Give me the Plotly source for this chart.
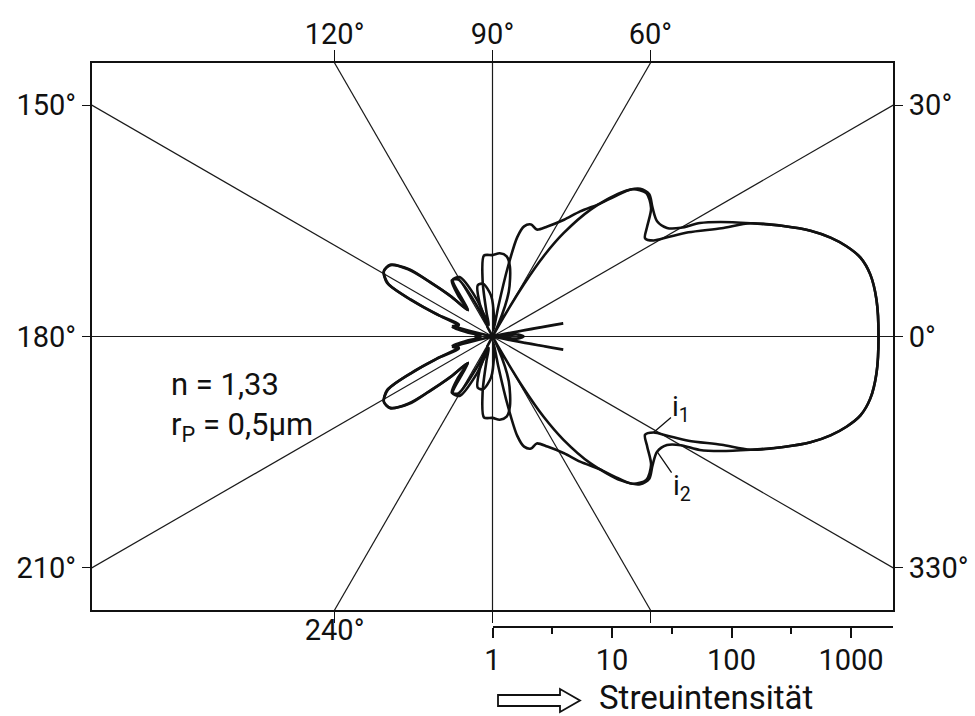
import numpy as np
import plotly.graph_objects as go

# Polar scattering diagram of a water droplet (n = 1.33, r = 0.5 µm).
# Scattering angle in degrees (0 = forward direction) and relative intensity
# for the two polarisation components i1 and i2 (upper half; the lower half
# is the mirror image).
angle_i1 = [0, 5.5, 9.3, 12.1, 14.3, 16.3, 18.4, 20.8, 23.7, 25.3,
            28, 29.5, 30.8, 32.8, 35.5, 39, 43, 46.5, 49, 51,
            55, 58.5, 63.5, 67.5, 71, 74, 76, 77.5, 79, 81,
            85, 92, 100, 106, 111, 114, 117, 121, 126, 130,
            133, 136, 139, 141, 145, 149, 153, 155.7, 158.3, 160,
            163, 167, 171, 175, 180]
intensity_i1 = [1700, 1690, 1600, 1410, 1140, 885, 638, 402, 228, 132,
                72, 49, 37, 33, 39, 51, 57.5, 50, 35.5, 27,
                19, 14, 10.7, 9.3, 9.8, 9.1, 7.2, 4.0, 1.8, 1.12,
                1.4, 2.2, 2.8, 2.8, 2.0, 1.26, 2.0, 3.6, 3.8, 2.8,
                2.0, 3.1, 4.9, 7.8, 11.1, 11.5, 9.8, 5.6, 3.2, 2.0,
                2.0, 2.2, 1.6, 1.26, 1.4]

angle_i2 = [0, 5.5, 9.3, 12.1, 14.3, 16.3, 18.4, 20.8, 23.7, 26.7,
            28.7, 30, 31.9, 35, 38.9, 42.2, 45, 48.3, 52.3, 55.5,
            57.5, 59, 60.5, 62, 64, 70, 76, 80, 85, 90,
            96, 100, 104, 108, 113, 119, 125, 129, 133, 136,
            139, 141.5, 145, 149, 153, 156, 158.5, 162, 165, 167.5,
            169.5, 171.5, 175, 180]
intensity_i2 = [1700, 1690, 1600, 1410, 1140, 885, 638, 402, 228, 136,
                95, 66, 52.5, 48, 52.5, 59, 56, 41, 22, 11.2,
                6.3, 3.2, 1.26, 0.8, 1.26, 2.5, 4.0, 4.8, 5.0, 4.8,
                4.8, 3.0, 1.6, 1.26, 2.2, 3.7, 3.8, 2.5, 2.0, 3.0,
                5.0, 8.0, 11.0, 11.5, 9.6, 5.4, 3.0, 2.0, 2.2, 1.0,
                0.25, 1.0, 0.63, 0.55]

# Reference directions and their labels on the frame
ref_angles = [0, 30, 60, 90, 120, 150]
top_labels = ["120°", "90°", "60°"]
bottom_labels = ["240°"]
left_labels = ["150°", "180°", "210°"]
right_labels = ["30°", "0°", "330°"]

# Intensity scale (logarithmic radius)
intensity_ticks = [1, 10, 100, 1000]
intensity_tick_text = ["1", "10", "100", "1000"]
intensity_minor = [10 ** 0.5, 10 ** 1.5, 10 ** 2.5]

FONT = "Roboto, 'Liberation Sans', sans-serif"
INK = "#111111"

# ---- page geometry -------------------------------------------------------
W, H = 975, 716
ML, MR, MT, MB = 92, 82, 63, 89
PW, PH = W - ML - MR, H - MT - MB          # plot area (px)
AXIS_GAP = 17                               # frame bottom to intensity axis (px)
BOX_H = PH - AXIS_GAP
R_MAX = 3.3515                              # half width of the frame in decades
R_Y = R_MAX * BOX_H / PW                    # half height of the frame in decades


def closed_curve(angles, values):
    """Mirror the 0..180° branch to a full closed polar curve in x/y."""
    a = np.asarray(angles, float)
    r = np.log10(np.asarray(values, float))
    a_full = np.concatenate([a, 360 - a[::-1][1:]])
    r_full = np.concatenate([r, r[::-1][1:]])
    t = np.radians(a_full)
    return r_full * np.cos(t), r_full * np.sin(t)


fig = go.Figure()

# radial reference lines through the centre
lx, ly = [], []
for a in ref_angles:
    t = np.radians(a)
    lx += [-10 * np.cos(t), 10 * np.cos(t), None]
    ly += [-10 * np.sin(t), 10 * np.sin(t), None]
fig.add_trace(go.Scatter(x=lx, y=ly, mode="lines",
                         line=dict(color="#1a1a1a", width=1.2),
                         hoverinfo="skip", showlegend=False))

for ang, val, name in [(angle_i1, intensity_i1, "i1"), (angle_i2, intensity_i2, "i2")]:
    x, y = closed_curve(ang, val)
    fig.add_trace(go.Scatter(x=x, y=y, mode="lines", name=name,
                             line=dict(color=INK, width=2.6,
                                       shape="spline", smoothing=0.8),
                             hoverinfo="skip", showlegend=False))

# helper traces so that the extra axes are drawn
fig.add_trace(go.Scatter(x=[0], y=[0], xaxis="x3", yaxis="y", mode="markers",
                         marker=dict(opacity=0), hoverinfo="skip", showlegend=False))
fig.add_trace(go.Scatter(x=[0], y=[0], xaxis="x", yaxis="y2", mode="markers",
                         marker=dict(opacity=0), hoverinfo="skip", showlegend=False))
fig.add_trace(go.Scatter(x=[1], y=[0], xaxis="x4", yaxis="y5", mode="markers",
                         marker=dict(opacity=0), hoverinfo="skip", showlegend=False))

t30 = np.tan(np.radians(30))
x_top = R_Y / np.tan(np.radians(60))        # where the 60°/120° lines meet the frame
y_side = R_MAX * t30                        # where the 30°/150° lines meet the frame

tickfont = dict(family=FONT, size=29, color=INK)
common = dict(showgrid=False, zeroline=False, fixedrange=True, automargin=False)
ydom = [AXIS_GAP / PH, 1]

fig.update_layout(
    width=W, height=H,
    margin=dict(l=ML, r=MR, t=MT, b=MB, pad=0, autoexpand=False),
    paper_bgcolor="white", plot_bgcolor="rgba(0,0,0,0)",
    font=dict(family=FONT, color=INK),
    xaxis=dict(domain=[0, 1], range=[-R_MAX, R_MAX], anchor="y", side="top",
               showline=True, linewidth=2, linecolor=INK, mirror="allticks",
               ticks="outside", ticklen=11, tickwidth=1.3, tickcolor=INK,
               ticklabelstandoff=-6,
               tickvals=[-x_top, 0, x_top], ticktext=top_labels, tickfont=tickfont,
               **common),
    xaxis3=dict(overlaying="x", matches="x", anchor="y", side="bottom",
                showline=False, ticks="", tickvals=[-x_top], ticktext=bottom_labels,
                tickfont=tickfont, **common),
    yaxis=dict(domain=ydom, range=[-R_Y, R_Y], anchor="x",
               showline=True, linewidth=2, linecolor=INK, mirror="allticks",
               ticks="outside", ticklen=8, tickwidth=1.3, tickcolor=INK,
               tickvals=[y_side, 0, -y_side], ticktext=left_labels, tickfont=tickfont,
               **common),
    yaxis2=dict(overlaying="y", matches="y", anchor="x", side="right",
                showline=False, ticks="outside", ticklen=9, tickcolor="rgba(0,0,0,0)",
                tickvals=[y_side, 0, -y_side], ticktext=right_labels,
                tickfont=tickfont, **common),
    yaxis5=dict(domain=ydom, range=[-R_Y, R_Y], anchor="x4", visible=False,
                **common),
    xaxis4=dict(domain=[0.5, 1], anchor="free", position=0, type="log",
                range=[0, R_MAX], showline=True, linewidth=2, linecolor=INK,
                ticks="outside", ticklen=10, tickwidth=2, tickcolor=INK,
                ticklabelstandoff=-3,
                tickvals=intensity_ticks, ticktext=intensity_tick_text, tickfont=tickfont,
                minor=dict(tickmode="array", tickvals=intensity_minor, ticks="outside",
                           ticklen=6, tickwidth=2, tickcolor=INK),
                **common),
)


def px_x(px):
    return (px - ML) / PW


def px_y(py):
    return (MT + PH - py) / PH


# hollow arrow in front of the axis title
x0, xh, xt = px_x(498), px_x(560), px_x(580)
ys_t, ys_b = px_y(695), px_y(706)
yh_t, yh_b, ym = px_y(689), px_y(712), px_y(700.5)
fig.add_shape(type="path", xref="paper", yref="paper",
              path=f"M {x0},{ys_t} L {xh},{ys_t} L {xh},{yh_t} L {xt},{ym} "
                   f"L {xh},{yh_b} L {xh},{ys_b} L {x0},{ys_b} Z",
              line=dict(color=INK, width=1.8), fillcolor="white")

fig.add_annotation(text="Streuintensität", xref="paper", yref="paper",
                   x=px_x(597), y=px_y(697), xanchor="left", yanchor="middle",
                   showarrow=False, font=dict(family=FONT, size=33))

fig.add_annotation(text="n = 1,33<br>r<sub>P</sub> = 0,5µm", xref="paper", yref="paper",
                   x=px_x(169), y=px_y(406), xanchor="left", yanchor="middle",
                   align="left", showarrow=False, font=dict(family=FONT, size=31))

# curve labels with leader lines, attached to points of the lower branch
for ang, val, idx, label, ax, ay in [(angle_i1, intensity_i1, 12, "i<sub>1</sub>", 28, -24),
                                     (angle_i2, intensity_i2, 13, "i<sub>2</sub>", 25, 36)]:
    r = np.log10(val[idx])
    t = -np.radians(ang[idx])
    fig.add_annotation(x=r * np.cos(t), y=r * np.sin(t), xref="x", yref="y",
                       text=label, showarrow=True, arrowhead=0, arrowwidth=1.3,
                       arrowcolor=INK, ax=ax, ay=ay, standoff=0,
                       font=dict(family=FONT, size=28))

fig.write_html("out.html")
